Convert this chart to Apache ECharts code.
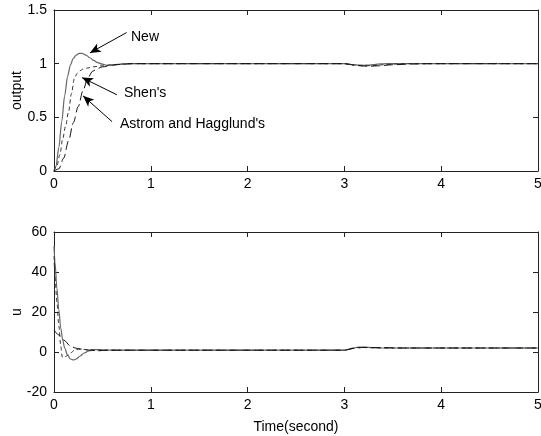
<!DOCTYPE html>
<html>
<head>
<meta charset="utf-8">
<script src="https://cdn.jsdelivr.net/npm/echarts@6/dist/echarts.min.js"></script>
<style>
  html, body { margin: 0; padding: 0; background: #fff; }
  #chart { width: 541px; height: 436px; }
</style>
</head>
<body>
<div id="chart"></div>
<script>
// time axis ticks
var xTicks = [0, 1, 2, 3, 4, 5];

// output, New
var tOutNew = [0, 0.02, 0.05, 0.08, 0.11, 0.14, 0.17, 0.2, 0.23, 0.26, 0.29, 0.33, 0.37, 0.41, 0.45, 0.5, 0.55, 0.6, 0.7, 0.8, 1, 3, 3.05, 3.1, 3.15, 3.2, 3.25, 3.3, 3.35, 3.4, 3.5, 5];
var yOutNew = [0, 0.04, 0.22, 0.46, 0.7, 0.88, 0.99, 1.05, 1.08, 1.095, 1.095, 1.08, 1.055, 1.03, 1.01, 0.995, 0.985, 0.988, 0.996, 1.0, 1.0, 1.0, 0.995, 0.99, 0.986, 0.985, 0.987, 0.992, 0.996, 0.999, 1.0, 1.0];

// output, Shen's
var tOutShen = [0, 0.03, 0.06, 0.09, 0.12, 0.15, 0.18, 0.21, 0.24, 0.27, 0.3, 0.35, 0.4, 0.5, 0.6, 0.7, 0.8, 3, 3.05, 3.1, 3.2, 3.3, 3.4, 3.5, 3.6, 5];
var yOutShen = [0, 0.05, 0.15, 0.3, 0.42, 0.55, 0.72, 0.86, 0.91, 0.935, 0.95, 0.96, 0.97, 0.98, 0.99, 0.997, 1.0, 1.0, 0.994, 0.987, 0.98, 0.982, 0.99, 0.996, 1.0, 1.0];

// output, Astrom and Hagglund's
var tOutAH = [0, 0.05, 0.1, 0.15, 0.2, 0.25, 0.3, 0.35, 0.4, 0.45, 0.5, 0.6, 0.7, 0.8, 3, 3.05, 3.1, 3.2, 3.25, 3.35, 3.5, 3.7, 3.9, 5];
var yOutAH = [0, 0.02, 0.12, 0.28, 0.45, 0.6, 0.75, 0.87, 0.93, 0.955, 0.97, 0.985, 0.995, 1.0, 1.0, 0.994, 0.986, 0.978, 0.976, 0.98, 0.99, 0.997, 1.0, 1.0];

// control u, New
var tUNew = [0, 0.01, 0.03, 0.05, 0.07, 0.09, 0.11, 0.14, 0.17, 0.2, 0.23, 0.27, 0.31, 0.36, 0.42, 0.5, 0.6, 1, 3, 3.05, 3.1, 3.15, 3.2, 3.3, 3.4, 5];
var yUNew = [53, 45, 32, 21, 12, 6, 2, -1.5, -3.5, -4, -3.5, -2, -0.5, 0.6, 1.2, 1.1, 0.9, 0.9, 0.9, 1.5, 2.1, 2.4, 2.4, 2.2, 2.0, 2.0];

// control u, Shen's
var tUShen = [0, 0.01, 0.03, 0.05, 0.07, 0.085, 0.1, 0.13, 0.17, 0.22, 0.27, 0.35, 0.5, 3, 3.05, 3.15, 3.3, 3.5, 5];
var yUShen = [48, 38, 25, 13, 3, -2.5, -3, -2, -0.5, 1.2, 1.5, 1.1, 0.9, 0.9, 1.6, 2.3, 2.1, 2.0, 2.0];

// control u, Astrom and Hagglund's
var tUAH = [0, 0.05, 0.1, 0.17, 0.22, 0.27, 0.35, 0.45, 0.55, 3, 3.1, 3.2, 3.35, 3.6, 5];
var yUAH = [11, 8.5, 6, 3, 2, 1.5, 1, 0.6, 0.9, 0.9, 1.8, 2.3, 2.2, 2.0, 2.0];

// annotation arrows [from, to] in data units
var arrowNew = [[0.75, 1.29], [0.37, 1.10]];
var arrowShen = [[0.65, 0.71], [0.29, 0.87]];
var arrowAH = [[0.6, 0.46], [0.3, 0.70]];

function zip(t, v) {
  return t.map(function (x, i) { return [x, v[i]]; });
}

var font = 'Arial, "Liberation Sans", sans-serif';
var frameColor = '#222';

function xAxisFor(gridIndex, pos, name) {
  return {
    type: 'value', gridIndex: gridIndex, position: pos,
    min: 0, max: 5, interval: 1,
    name: name || '', nameLocation: 'middle', nameGap: 28, nameMoveOverlap: false,
    nameTextStyle: { fontFamily: font, fontSize: 14, color: '#000' },
    axisLine: { show: true, onZero: false, lineStyle: { color: frameColor, width: 1 } },
    axisTick: { show: true, inside: true, length: 5, lineStyle: { color: frameColor } },
    axisLabel: { show: pos === 'bottom', margin: 6, fontFamily: font, fontSize: 14, color: '#000' },
    splitLine: { show: false }
  };
}

function yAxisFor(gridIndex, pos, min, max, interval, name) {
  return {
    type: 'value', gridIndex: gridIndex, position: pos,
    min: min, max: max, interval: interval,
    name: name || '', nameLocation: 'middle', nameGap: 30, nameMoveOverlap: false,
    nameTextStyle: { fontFamily: font, fontSize: 14, color: '#000' },
    axisLine: { show: true, onZero: false, lineStyle: { color: frameColor, width: 1 } },
    axisTick: { show: true, inside: true, length: 5, lineStyle: { color: frameColor } },
    axisLabel: { show: pos === 'left', margin: 7, fontFamily: font, fontSize: 14, color: '#000' },
    splitLine: { show: false }
  };
}

function curve(data, xi, yi, color, type, width) {
  return {
    type: 'line', xAxisIndex: xi, yAxisIndex: yi, data: data,
    showSymbol: false, symbol: 'none', smooth: 0.3, smoothMonotone: 'x',
    lineStyle: { color: color, width: width || 1, type: type },
    silent: true
  };
}

function arrowLine(a) {
  return [{ coord: a[0], symbol: 'none' }, { coord: a[1], symbol: 'arrow' }];
}

var chart = echarts.init(document.getElementById('chart'));

var outNew = curve(zip(tOutNew, yOutNew), 0, 0, '#666', 'solid', 1.2);
outNew.markLine = {
  silent: true, animation: false,
  symbol: ['none', 'arrow'], symbolSize: [7, 11],
  label: { show: false },
  lineStyle: { color: '#000', width: 1, type: 'solid' },
  data: [arrowLine(arrowNew), arrowLine(arrowShen), arrowLine(arrowAH)]
};

chart.setOption({
  animation: false,
  backgroundColor: '#fff',
  grid: [
    { left: 54, right: 3, top: 10, height: 161, outerBoundsMode: 'none', containLabel: false },
    { left: 54, right: 3, top: 232, height: 160, outerBoundsMode: 'none', containLabel: false }
  ],
  xAxis: [
    xAxisFor(0, 'bottom'),
    xAxisFor(0, 'top'),
    xAxisFor(1, 'bottom', 'Time(second)'),
    xAxisFor(1, 'top')
  ],
  yAxis: [
    yAxisFor(0, 'left', 0, 1.5, 0.5, 'output'),
    yAxisFor(0, 'right', 0, 1.5, 0.5),
    yAxisFor(1, 'left', -20, 60, 20, 'u'),
    yAxisFor(1, 'right', -20, 60, 20)
  ],
  graphic: [
    { type: 'text', left: 131, top: 30, style: { text: 'New', font: '14px ' + font, fill: '#000' } },
    { type: 'text', left: 124, top: 86, style: { text: "Shen's", font: '14px ' + font, fill: '#000' } },
    { type: 'text', left: 120, top: 117, style: { text: "Astrom and Hagglund's", font: '14px ' + font, fill: '#000' } }
  ],
  series: [
    outNew,
    curve(zip(tOutShen, yOutShen), 0, 0, '#333', [4, 3], 1),
    curve(zip(tOutAH, yOutAH), 0, 0, '#111', [9, 4], 1),
    curve(zip(tUNew, yUNew), 2, 2, '#666', 'solid', 1.2),
    curve(zip(tUShen, yUShen), 2, 2, '#333', [4, 3], 1),
    curve(zip(tUAH, yUAH), 2, 2, '#111', [9, 4], 1)
  ]
});
</script>
</body>
</html>
